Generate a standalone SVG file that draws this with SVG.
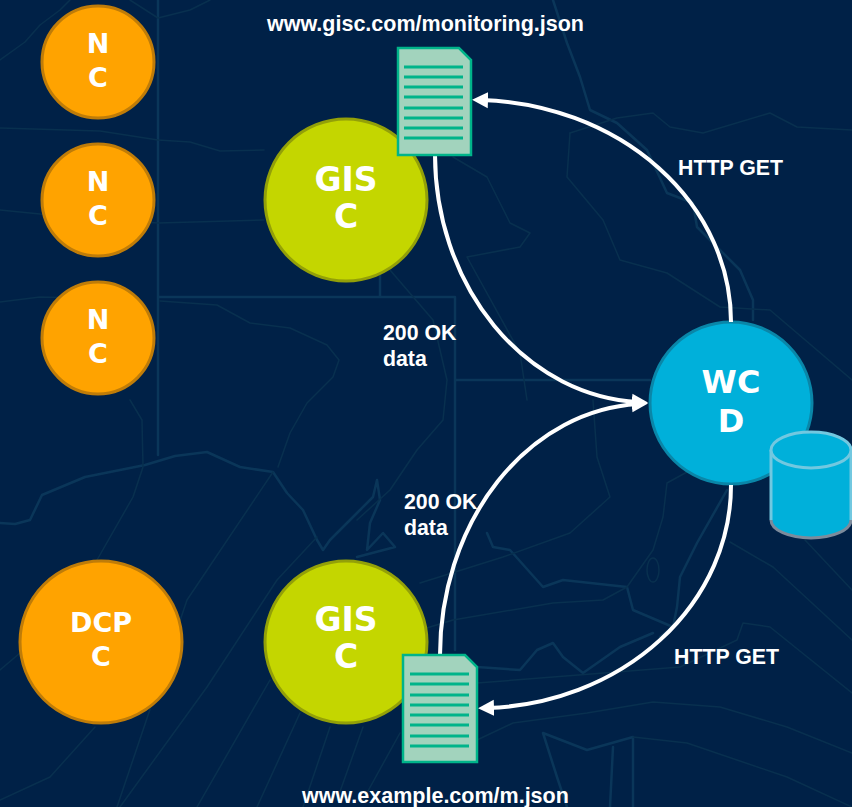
<svg xmlns="http://www.w3.org/2000/svg" width="852" height="807" viewBox="0 0 852 807">
  <style>
    .map { fill: none; stroke: #08304f; stroke-width: 1.5; stroke-linejoin: round; stroke-linecap: round; }
    .map2 { fill: none; stroke: #0a3659; stroke-width: 2.5; stroke-linejoin: round; stroke-linecap: round; }
    .nc { fill: #ffa300; stroke: #bf7c08; stroke-width: 3; }
    .gc { fill: #c4d600; stroke: #93a008; stroke-width: 3; }
    .wc { fill: #00b0da; stroke: #0a86a8; stroke-width: 3; }
    .nt { font-family: "DejaVu Sans", Verdana, sans-serif; font-weight: 700; fill: #fff; text-anchor: middle; }
    .lb { font-family: "Liberation Sans", Arial, sans-serif; font-weight: 700; font-size: 21.3px; fill: #fff; }
    .url { font-size: 21.5px; }
    .doc { fill: #a2d3bd; stroke: #00b48a; stroke-width: 2.5; }
    .rows { stroke: #00b48a; stroke-width: 3; fill: none; }
    .flow { fill: none; stroke: #fff; stroke-width: 4; marker-end: url(#ah); }
  </style>
  <defs>
    <marker id="ah" markerUnits="userSpaceOnUse" markerWidth="16" markerHeight="18" refX="6" refY="9" orient="auto">
      <path d="M0 1 L16 9 L0 17 Z" fill="#fff"/>
    </marker>
  </defs>
  <rect width="852" height="807" fill="#002147"/>
  <g id="map">
    <path class="map2" d="M158 0V455M158 297H455V650M455 380H650M380 270V297"/>
    <path class="map2" d="M0 523L15 524L30 520L42 495L85 477L110 472L145 465L175 456L207 452L240 467L273 472L287 493L303 510L317 540L323 550L330 540L357 513L373 497L377 480L380 500L370 523L367 550L383 533L395 547L357 557"/>
    <path class="map" d="M0 128L100 131L158 140L190 142L220 151L264 150M0 210L40 214L158 223L264 220M0 302L40 297L80 298M0 60L25 42L40 25L60 10L70 0M130 0L158 18L190 10L210 0"/>
    <path class="map" d="M160 301L217 305L250 323L290 328L327 345L339 360L333 377L307 403L290 433L278 467"/>
    <path class="map" d="M357 520L390 490L417 450L443 420L447 380L433 320L390 270"/>
    <path class="map" d="M130 400L142 420L143 467L133 497L97 560L80 590M20 653L0 670M95 727L50 777L0 800M273 472L187 600L117 807"/>
    <path class="map" d="M317 537L277 580L207 687L120 807M270 680L197 807M300 713L257 807M330 727L303 807M363 727L337 800M400 733L363 800"/>
    <path class="map2" d="M553 0L567 43L580 77L590 110L617 123L647 150L667 193L693 203L697 227L740 270L753 300L753 320"/>
    <path class="map" d="M570 133L617 118L653 113L670 127L703 133L770 113L797 127L852 130"/>
    <path class="map" d="M570 133L567 177L603 220L620 260L667 273L720 307L770 310L852 380"/>
    <path class="map" d="M453 157L487 177L510 223L530 233L520 247L467 257L520 353L527 400"/>
    <path class="map2" d="M487 533L493 547L510 550L543 587L563 580L627 587L633 610L673 627L660 637"/>
    <path class="map" d="M627 587L653 550L663 517L667 483L687 472M627 587L603 600L553 603L453 620L420 630"/>
    <ellipse class="map" cx="653" cy="570" rx="6" ry="12"/>
    <path class="map2" d="M727 490L697 543L680 577L677 607L673 627"/>
    <path class="map" d="M420 583L503 557L570 533L610 497L597 457L593 400"/>
    <path class="map2" d="M477 667L520 670L537 650L553 643L563 657L583 673L620 647L653 633"/>
    <path class="map" d="M477 683L553 677L680 667L737 640L743 623L770 627L852 693M730 542L773 567L852 640"/>
    <path class="map" d="M477 740L513 723L587 713L653 702L720 707L787 727L852 753"/>
    <path class="map2" d="M543 733L587 750L633 737V807M543 733L557 777L567 807M613 747L610 807"/>
    <path class="map" d="M633 737L687 743L787 777L852 807M805 540L852 590"/>
  </g>
  <g id="node-nc1"><circle class="nc" cx="98" cy="62" r="56"/><text class="nt" font-size="27" x="98" y="53">N</text><text class="nt" font-size="27" x="98" y="87">C</text></g>
  <g id="node-nc2"><circle class="nc" cx="98" cy="200" r="56"/><text class="nt" font-size="27" x="98" y="191">N</text><text class="nt" font-size="27" x="98" y="225">C</text></g>
  <g id="node-nc3"><circle class="nc" cx="98" cy="338" r="56"/><text class="nt" font-size="27" x="98" y="329">N</text><text class="nt" font-size="27" x="98" y="363">C</text></g>
  <g id="node-dcpc"><circle class="nc" cx="101" cy="642" r="81"/><text class="nt" font-size="27" x="101" y="632">DCP</text><text class="nt" font-size="27" x="101" y="666">C</text></g>
  <g id="node-gisc1"><circle class="gc" cx="346" cy="200" r="81"/><text class="nt" font-size="33" x="346" y="191">GIS</text><text class="nt" font-size="33" x="346" y="228">C</text></g>
  <g id="node-gisc2"><circle class="gc" cx="346" cy="642" r="81"/><text class="nt" font-size="33" x="346" y="631">GIS</text><text class="nt" font-size="33" x="346" y="668">C</text></g>
  <g id="node-wcd"><circle class="wc" cx="731" cy="403" r="81"/><text class="nt" font-size="32" x="731" y="393">WC</text><text class="nt" font-size="32" x="731" y="432">D</text></g>
  <g id="node-db">
    <path d="M771 450V520A40 18 0 0 0 851 520V450Z" fill="#00b0da"/>
    <path d="M771 520A40 18 0 0 0 851 520" fill="none" stroke="#7c8b9c" stroke-width="3"/>
    <path d="M771 450V520M851 450V520" fill="none" stroke="#72c8e0" stroke-width="3"/>
    <ellipse cx="811" cy="450" rx="40" ry="18" fill="#00b0da" stroke="#72c8e0" stroke-width="3"/>
  </g>
  <g id="connectors">
    <path class="flow" d="M731 322A259 222 0 0 0 482 100"/>
    <path class="flow" d="M435 155A213 248 0 0 0 638 402"/>
    <path class="flow" d="M440 655A208 252 0 0 1 638 404"/>
    <path class="flow" d="M731 485A253 223 0 0 1 488 708"/>
  </g>
  <g id="node-doc1">
    <path class="doc" d="M398 48H459L471 60V155H398Z"/>
    <path class="rows" d="M404 67H463M404 77H463M404 87H463M404 97H463M404 108H463M404 118H463M404 128H463M404 138H463"/>
  </g>
  <g id="node-doc2">
    <path class="doc" d="M403 655H465L477 667V762H403Z"/>
    <path class="rows" d="M410 674H469M410 684H469M410 695H469M410 705H469M410 715H469M410 725H469M410 736H469M410 746H469"/>
  </g>
  <g id="labels">
    <text class="lb url" x="267" y="31">www.gisc.com/monitoring.json</text>
    <text class="lb url" x="302" y="803">www.example.com/m.json</text>
    <text class="lb" x="678" y="175">HTTP GET</text>
    <text class="lb" x="674" y="664">HTTP GET</text>
    <text class="lb" x="383" y="340">200 OK</text>
    <text class="lb" x="383" y="366">data</text>
    <text class="lb" x="404" y="509">200 OK</text>
    <text class="lb" x="404" y="535">data</text>
  </g>
</svg>
